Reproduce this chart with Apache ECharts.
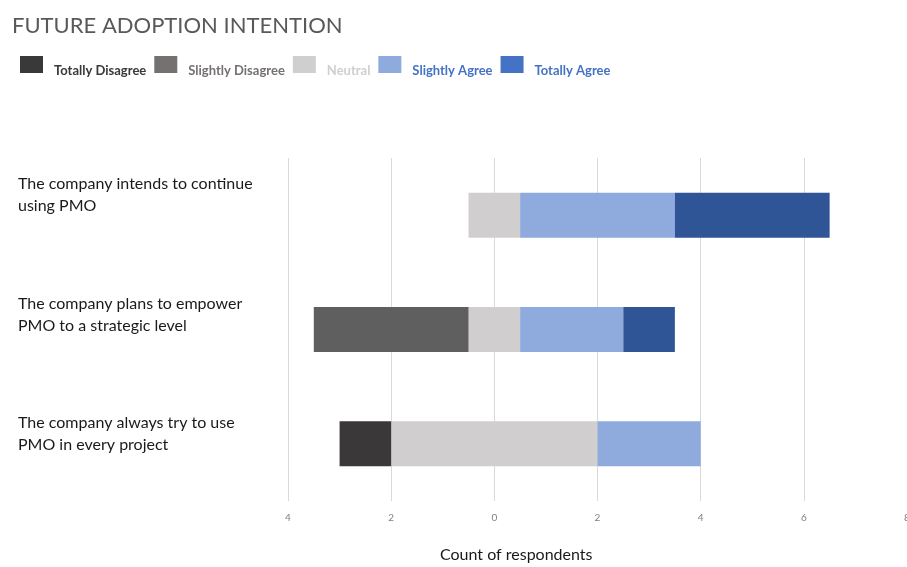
<!DOCTYPE html>
<html>
<head>
<meta charset="utf-8">
<script src="https://cdn.jsdelivr.net/npm/echarts@6/dist/echarts.min.js"></script>
<style>
  html, body { margin: 0; padding: 0; background: #fff; }
  #chart { width: 907px; height: 567px; }
</style>
</head>
<body>
<div id="chart"></div>
<script>
// Survey statements, top to bottom
const statements = [
  'The company intends to continue using PMO',
  'The company plans to empower PMO to a strategic level',
  'The company always try to use PMO in every project'
];

// Respondent counts per answer
const totallyDisagree = [0, 0, 1];
const slightlyDisagree = [0, 3, 0];
const neutral = [1, 1, 4];
const slightlyAgree = [3, 2, 2];
const totallyAgree = [3, 1, 0];

// Axis ticks
const axisMin = -4, axisMax = 8, axisStep = 2;

const font = 'Lato, "Open Sans", sans-serif';

// Neutral answers are split evenly around zero
const neutralLeft = neutral.map(v => -v / 2);
const neutralRight = neutral.map(v => v / 2);
const neg = arr => arr.map(v => -v);

const bar = (name, data, color) => ({
  name, type: 'bar', stack: 'likert', data, barWidth: 45,
  xAxisIndex: 0, yAxisIndex: 0,
  itemStyle: { color },
  emphasis: { disabled: true }
});

const chart = echarts.init(document.getElementById('chart'));
chart.setOption({
  animation: false,
  backgroundColor: '#ffffff',
  title: {
    text: 'FUTURE ADOPTION INTENTION',
    left: 7, top: 10,
    textStyle: { fontFamily: font, fontSize: 22, fontWeight: 'normal', color: '#595959' }
  },
  legend: {
    left: 15, top: 51, icon: 'rect',
    itemWidth: 23, itemHeight: 17, itemGap: 8,
    formatter: name => '{t|' + name + '}',
    textStyle: {
      fontFamily: font, fontSize: 13, fontWeight: 'bold',
      rich: { t: { padding: [12, 0, 0, 6] } }
    },
    data: [
      { name: 'Totally Disagree', itemStyle: { color: '#3a3838' }, textStyle: { color: '#3a3838' } },
      { name: 'Slightly Disagree', itemStyle: { color: '#767171' }, textStyle: { color: '#767171' } },
      { name: 'Neutral', itemStyle: { color: '#d0cece' }, textStyle: { color: '#d0cece' } },
      { name: 'Slightly Agree', itemStyle: { color: '#8faadc' }, textStyle: { color: '#4472c4' } },
      { name: 'Totally Agree', itemStyle: { color: '#4472c4' }, textStyle: { color: '#4472c4' } }
    ]
  },
  grid: [
    // bars
    { left: 288, right: 0, top: 158, bottom: 66, containLabel: false, outerBoundsMode: 'none' },
    // statement labels, set slightly above each bar
    { left: 288, right: 0, top: 135, bottom: 73, containLabel: false, outerBoundsMode: 'none' }
  ],
  xAxis: [{
    type: 'value', gridIndex: 0, min: axisMin, max: axisMax, interval: axisStep,
    axisLine: { show: false }, axisTick: { show: false },
    splitLine: { lineStyle: { color: '#d9d9d9', width: 1 } },
    axisLabel: {
      fontFamily: font, fontSize: 10, color: '#808080', margin: 12,
      formatter: v => String(Math.abs(v))
    }
  }, {
    type: 'value', gridIndex: 1, min: axisMin, max: axisMax, show: false
  }],
  yAxis: [{
    type: 'category', gridIndex: 0, inverse: true, data: statements,
    axisLine: { show: false }, axisTick: { show: false }, axisLabel: { show: false }
  }, {
    type: 'category', gridIndex: 1, inverse: true, data: statements,
    axisLine: { show: false }, axisTick: { show: false }, splitLine: { show: false },
    axisLabel: {
      fontFamily: font, fontSize: 16, color: '#1a1a1a', align: 'left', margin: 270,
      width: 246, overflow: 'break', lineHeight: 22
    }
  }],
  graphic: [{
    type: 'text', left: 440, top: 547,
    style: { text: 'Count of respondents', font: '16px ' + font, fill: '#1a1a1a' }
  }],
  series: [
    bar('Neutral', neutralLeft, '#d0cece'),
    bar('Slightly Disagree', neg(slightlyDisagree), '#5f5f5f'),
    bar('Totally Disagree', neg(totallyDisagree), '#3a3838'),
    bar('Neutral', neutralRight, '#d0cece'),
    bar('Slightly Agree', slightlyAgree, '#8faadc'),
    bar('Totally Agree', totallyAgree, '#2f5597')
  ]
});
</script>
</body>
</html>
